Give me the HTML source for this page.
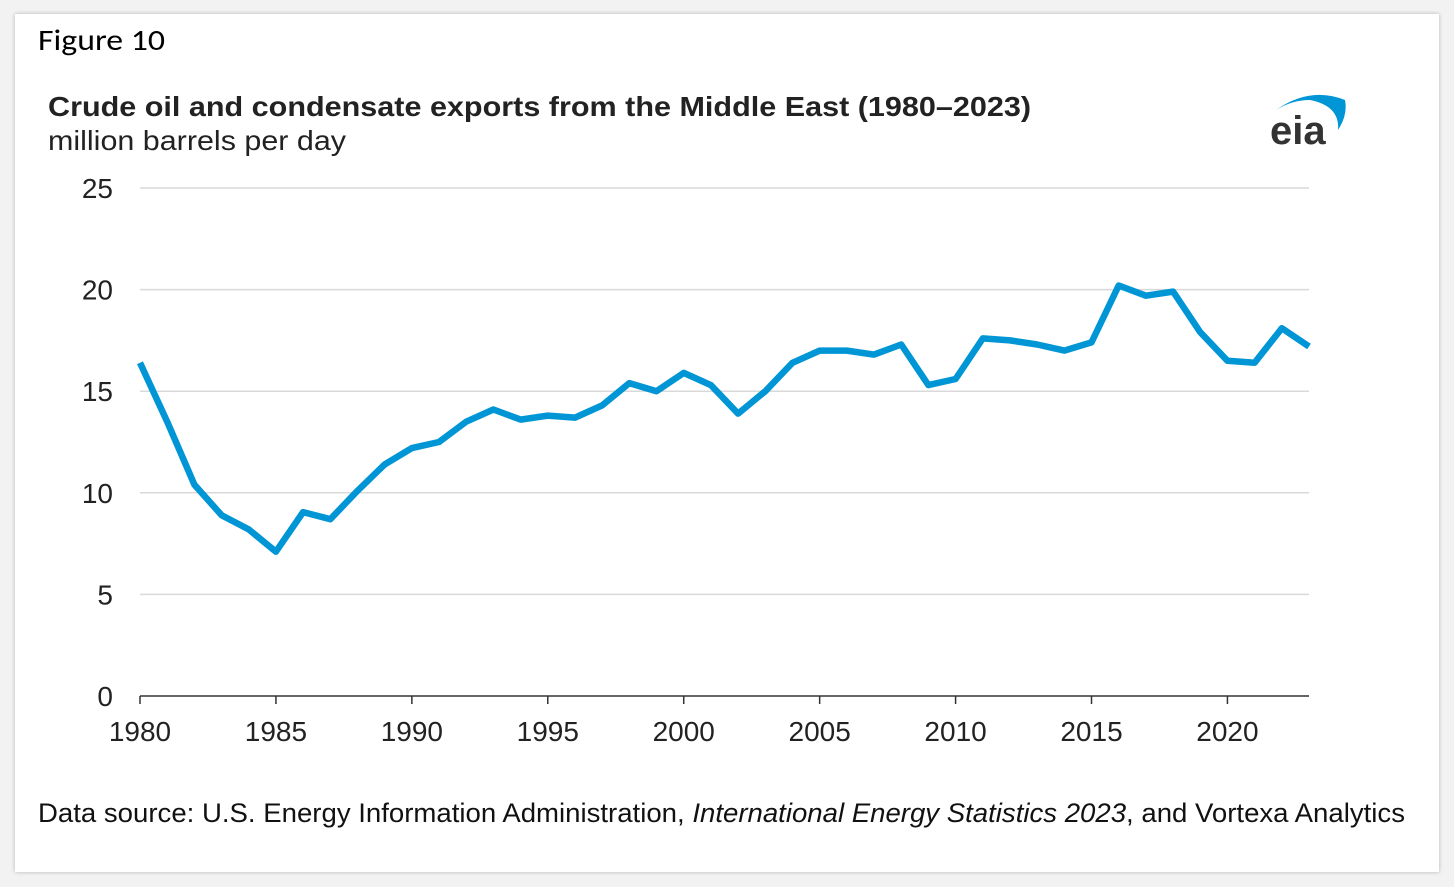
<!DOCTYPE html>
<html><head><meta charset="utf-8"><style>
body{margin:0;width:1454px;height:887px;background:#f2f2f2;overflow:hidden;font-family:"Liberation Sans",Arial,sans-serif}
#card{position:absolute;left:15px;top:14px;width:1424px;height:858px;background:#fff;box-shadow:0 0 4px rgba(0,0,0,0.25)}
</style></head><body>
<div id="card"></div>
<svg id="chart" width="1454" height="887" style="position:absolute;left:0;top:0">
<text x="38" y="50" font-family="Carlito,'Liberation Sans',sans-serif" font-size="30" textLength="127" lengthAdjust="spacingAndGlyphs" fill="#000">Figure 10</text>
<text x="48" y="116" font-size="28" font-weight="bold" fill="#222" textLength="983" lengthAdjust="spacingAndGlyphs">Crude oil and condensate exports from the Middle East (1980–2023)</text>
<text x="48" y="150" font-size="28" fill="#222" textLength="298" lengthAdjust="spacingAndGlyphs">million barrels per day</text>
<g>
<path d="M1276 110 Q1310 86 1345 100 Q1348 115 1338 130 Q1340 106 1310 100 Q1292 100 1276 110Z" fill="#0096d6"/>
<text x="1270" y="144" font-size="40" font-weight="bold" fill="#333">eia</text>
</g>
<g id="grid"></g><g id="axes"></g>
<path id="line" fill="none" stroke="#0096d6" stroke-width="6.5" stroke-linejoin="round"/>
<text x="38" y="822" font-size="27" fill="#111" textLength="1367" lengthAdjust="spacingAndGlyphs">Data source: U.S. Energy Information Administration, <tspan font-style="italic">International Energy Statistics 2023</tspan>, and Vortexa Analytics</text>
</svg>
<script>
const years=[1980,1981,1982,1983,1984,1985,1986,1987,1988,1989,1990,1991,1992,1993,1994,1995,1996,1997,1998,1999,2000,2001,2002,2003,2004,2005,2006,2007,2008,2009,2010,2011,2012,2013,2014,2015,2016,2017,2018,2019,2020,2021,2022,2023];
const exportsMbd=[16.4,13.5,10.4,8.9,8.2,7.1,9.05,8.7,10.1,11.4,12.2,12.5,13.5,14.1,13.6,13.8,13.7,14.3,15.4,15.0,15.9,15.3,13.9,15.0,16.4,17.0,17.0,16.8,17.3,15.3,15.6,17.6,17.5,17.3,17.0,17.4,20.2,19.7,19.9,17.9,16.5,16.4,18.1,17.2];
const yTicks=[0,5,10,15,20,25];
const xTicks=[1980,1985,1990,1995,2000,2005,2010,2015,2020];
const NS="http://www.w3.org/2000/svg";
const x=v=>140+(v-1980)*(1309-140)/43;
const y=v=>696-v*(696-188)/25;
const grid=document.getElementById('grid'),axes=document.getElementById('axes');
function mk(tag,attrs,parent,txt){const e=document.createElementNS(NS,tag);for(const k in attrs)e.setAttribute(k,attrs[k]);if(txt!=null)e.textContent=txt;parent.appendChild(e);return e;}
yTicks.forEach(t=>{
 if(t>0){const g=mk('line',{x1:140,x2:1309,y1:y(t),y2:y(t),stroke:'#d9d9d9','stroke-width':1.5},grid);
 
 }
 const l=mk('text',{x:113,y:y(t)+10,'font-size':28,fill:'#222','text-anchor':'end'},axes,t);
 
 
});
const ax=mk('line',{x1:140,x2:1309,y1:696,y2:696,stroke:'#333','stroke-width':1.5},axes);


xTicks.forEach(t=>{
 const tk=mk('line',{x1:x(t),x2:x(t),y1:696,y2:704,stroke:'#333','stroke-width':1.5},axes);
 
 
 const l=mk('text',{x:x(t),y:741,'font-size':28,fill:'#222','text-anchor':'middle'},axes,t);
 
 
});
document.getElementById('line').setAttribute('d',years.map((yr,i)=>(i?'L':'M')+x(yr).toFixed(1)+' '+y(exportsMbd[i]).toFixed(1)).join(' '));
</script>
</body></html>
